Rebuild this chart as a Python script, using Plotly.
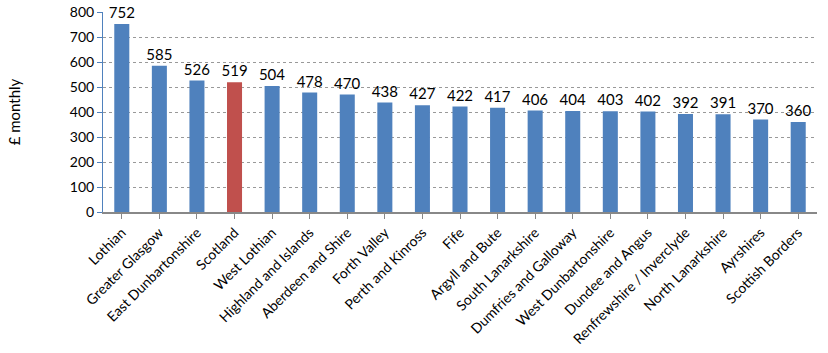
import plotly.graph_objects as go

categories = ["Lothian", "Greater Glasgow", "East Dunbartonshire", "Scotland", "West Lothian",
              "Highland and Islands", "Aberdeen and Shire", "Forth Valley", "Perth and Kinross",
              "Fife", "Argyll and Bute", "South Lanarkshire", "Dumfries and Galloway",
              "West Dunbartonshire", "Dundee and Angus", "Renfrewshire / Inverclyde",
              "North Lanarkshire", "Ayrshires", "Scottish Borders"]
values = [752, 585, 526, 519, 504, 478, 470, 438, 427, 422, 417, 406, 404, 403, 402, 392, 391, 370, 360]
y_ticks = [0, 100, 200, 300, 400, 500, 600, 700, 800]

colors = ["#C0504D" if c == "Scotland" else "#4F81BD" for c in categories]

fig = go.Figure(go.Bar(
    x=categories, y=values, marker_color=colors, marker_line_width=0,
    text=[str(v) for v in values], textposition="outside", cliponaxis=False,
    constraintext="none",
    textfont=dict(family="Lato, Carlito, sans-serif", size=15, color="#000000"),
))

fig.update_layout(
    width=828, height=353,
    margin=dict(l=103, r=11, t=12, b=141),
    paper_bgcolor="white", plot_bgcolor="white",
    bargap=0.6, showlegend=False,
    font=dict(family="Lato, Carlito, sans-serif", size=13, color="#000000"),
)
fig.update_xaxes(
    tickangle=-45, ticks="outside", ticklen=5, tickcolor="#888888",
    showline=True, linecolor="#888888", linewidth=2,
    tickfont=dict(size=14), showgrid=False, automargin=False,
)
fig.update_yaxes(
    range=[0, 800], tickvals=y_ticks, ticks="outside", ticklen=5, tickcolor="#4F81BD",
    showline=True, linecolor="#4F81BD", linewidth=1,
    showgrid=True, gridcolor="#999999", griddash="dot", gridwidth=1,
    tickfont=dict(size=14), zeroline=False, automargin=False,
    title=dict(text="£ monthly", font=dict(size=15), standoff=45),
)

fig.write_html("out.html")
